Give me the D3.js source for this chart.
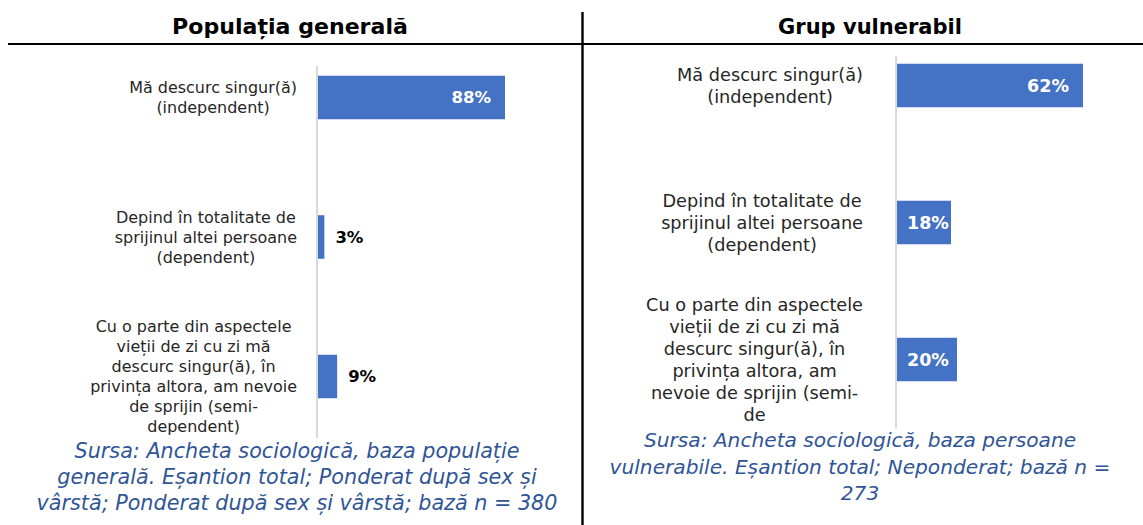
<!DOCTYPE html>
<html>
<head>
<meta charset="utf-8">
<script src="https://cdn.jsdelivr.net/npm/d3@7"></script>
<style>
  html, body { margin: 0; padding: 0; background: #fff; }
  svg { display: block; }
</style>
</head>
<body>
<svg id="chart" width="1143" height="525"></svg>
<script>
// ---------- data ----------
const categories = ["independent", "dependent", "semi-dependent"];
const generalValues = [88, 3, 9];
const vulnerableValues = [62, 18, 20];
const generalLabels = [
  ["Mă descurc singur(ă)", "(independent)"],
  ["Depind în totalitate de", "sprijinul altei persoane", "(dependent)"],
  ["Cu o parte din aspectele", "vieții de zi cu zi mă", "descurc singur(ă), în", "privința altora, am nevoie", "de sprijin (semi-", "dependent)"]
];
const vulnerableLabels = [
  ["Mă descurc singur(ă)", "(independent)"],
  ["Depind în totalitate de", "sprijinul altei persoane", "(dependent)"],
  ["Cu o parte din aspectele", "vieții de zi cu zi mă", "descurc singur(ă), în", "privința altora, am", "nevoie de sprijin (semi-", "de"]
];
const panelTitles = ["Populația generală", "Grup vulnerabil"];
const generalSource = [
  "Sursa: Ancheta sociologică, baza populație",
  "generală. Eșantion total; Ponderat după sex și",
  "vârstă; Ponderat după sex și vârstă; bază n = 380"
];
const vulnerableSource = [
  "Sursa: Ancheta sociologică, baza persoane",
  "vulnerabile. Eșantion total; Neponderat; bază n =",
  "273"
];

// ---------- layout ----------
const svg = d3.select("#chart");
const barColor = "#4472C4";
const sourceColor = "#2F5597";
const font = "'DejaVu Sans', sans-serif";

const panels = [
  {
    title: panelTitles[0], titleX: 290, titleW: 236, values: generalValues, labels: generalLabels, source: generalSource,
    axisX: 317, xMax: 317 + 212.5, yRange: [97.5, 376.5], axisY: [66, 438],
    labelRight: 297, labelRefW: 168, lineH: 20, valueFont: 16.5,
    sourceX: 297, sourceY: 458, sourceLH: 26, sourceW: 445, sourceRef: 0
  },
  {
    title: panelTitles[1], titleX: 870, titleW: 184, values: vulnerableValues, labels: vulnerableLabels, source: vulnerableSource,
    axisX: 896, xMax: 896 + 300, yRange: [85.5, 359.5], axisY: [56, 428],
    labelRight: 863, labelRefW: 186, lineH: 22, valueFont: 17.5,
    sourceX: 860, sourceY: 447, sourceLH: 26.5, sourceW: 501, sourceRef: 1
  }
];

// font size that makes a string reach a target width
function fittedSize(str, base, target, weight, style) {
  const tmp = svg.append("text").style("font-family", font).style("font-size", base + "px")
    .style("font-weight", weight || "normal").style("font-style", style || "normal").text(str);
  const w = tmp.node().getComputedTextLength();
  tmp.remove();
  return base * target / w;
}

// frame lines
svg.append("line").attr("x1", 8).attr("x2", 1143).attr("y1", 44).attr("y2", 44)
  .attr("stroke", "#000").attr("stroke-width", 2.2);
svg.append("line").attr("x1", 582.5).attr("x2", 582.5).attr("y1", 12).attr("y2", 525)
  .attr("stroke", "#000").attr("stroke-width", 2.4);

const barH = 43.5;

panels.forEach(p => {
  const g = svg.append("g");
  const x = d3.scaleLinear().domain([0, 100]).range([p.axisX, p.xMax]);
  const y = d3.scalePoint().domain(categories).range(p.yRange).padding(0);

  // title
  g.append("text").attr("x", p.titleX).attr("y", 34)
    .attr("text-anchor", "middle")
    .style("font-family", font).style("font-weight", "bold")
    .style("font-size", fittedSize(p.title, 20, p.titleW, "bold") + "px")
    .attr("fill", "#000").text(p.title);

  // axis line
  g.append("line").attr("x1", p.axisX).attr("x2", p.axisX)
    .attr("y1", p.axisY[0]).attr("y2", p.axisY[1])
    .attr("stroke", "#d9d9d9").attr("stroke-width", 2);

  // bars
  g.selectAll("rect.bar").data(p.values).join("rect")
    .attr("class", "bar")
    .attr("x", x(0) + 1)
    .attr("y", (d, i) => y(categories[i]) - barH / 2)
    .attr("width", d => x(d) - x(0))
    .attr("height", barH)
    .attr("fill", barColor);

  // category labels (lines centred within a right-aligned block)
  const labelFont = fittedSize(p.labels[0][0], 15, p.labelRefW);
  p.labels.forEach((lines, i) => {
    const t = g.append("text")
      .style("font-family", font)
      .style("font-size", labelFont + "px")
      .attr("fill", "#262626")
      .attr("text-anchor", "middle");
    const tmp = g.append("text").style("font-family", font).style("font-size", labelFont + "px");
    let maxW = 0;
    lines.forEach(l => { tmp.text(l); maxW = Math.max(maxW, tmp.node().getComputedTextLength()); });
    tmp.remove();
    const cx = p.labelRight - maxW / 2;
    const cy = y(categories[i]);
    const n = lines.length;
    lines.forEach((l, k) => {
      t.append("tspan").attr("x", cx)
        .attr("y", cy + (k - (n - 1) / 2) * p.lineH)
        .attr("dy", "0.35em")
        .text(l);
    });
  });

  // value labels
  p.values.forEach((v, i) => {
    const label = v + "%";
    const t = g.append("text")
      .style("font-family", font).style("font-weight", "bold")
      .style("font-size", p.valueFont + "px")
      .attr("y", y(categories[i])).attr("dy", "0.36em")
      .text(label);
    const w = t.node().getComputedTextLength();
    const barW = x(v) - x(0);
    if (barW >= w + 30) {
      t.attr("x", x(v) - 13).attr("text-anchor", "end").attr("fill", "#fff");
    } else if (barW >= w) {
      t.attr("x", x(0) + 11).attr("text-anchor", "start").attr("fill", "#fff");
    } else {
      t.attr("x", x(v) + 12).attr("text-anchor", "start").attr("fill", "#000");
    }
  });

  // source note
  const sourceFont = fittedSize(p.source[p.sourceRef], 20, p.sourceW, "normal", "italic");
  const s = g.append("text")
    .style("font-family", font).style("font-style", "italic")
    .style("font-size", sourceFont + "px")
    .attr("fill", sourceColor)
    .attr("text-anchor", "middle");
  p.source.forEach((l, k) => {
    s.append("tspan").attr("x", p.sourceX).attr("y", p.sourceY + k * p.sourceLH).text(l);
  });
});
</script>
</body>
</html>
